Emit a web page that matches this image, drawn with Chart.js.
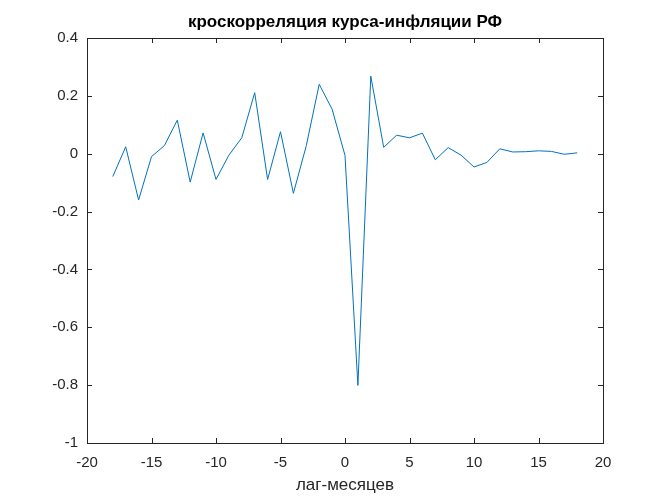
<!DOCTYPE html>
<html>
<head>
<meta charset="utf-8">
<script src="https://cdn.jsdelivr.net/npm/chart.js@4/dist/chart.umd.min.js"></script>
<style>
  html, body { margin: 0; padding: 0; background: #fff; }
  #box { width: 667px; height: 500px; }
</style>
</head>
<body>
<div id="box"><canvas id="grafico"></canvas></div>
<script>
// Lags (months) and cross-correlation values
const lags = [-18, -17, -16, -15, -14, -13, -12, -11, -10, -9, -8, -7, -6, -5, -4, -3, -2, -1,
  0, 1, 2, 3, 4, 5, 6, 7, 8, 9, 10, 11, 12, 13, 14, 15, 16, 17, 18];
const corr = [-0.079, 0.024, -0.160, -0.010, 0.028, 0.116, -0.098, 0.072, -0.089, -0.005,
  0.055, 0.211, -0.089, 0.076, -0.137, 0.028, 0.240, 0.154,
  -0.006, -0.801, 0.268, 0.022, 0.064, 0.055, 0.071, -0.021, 0.021, -0.005,
  -0.046, -0.030, 0.017, 0.006, 0.007, 0.010, 0.008, -0.002, 0.003];
const xTicks = [-20, -15, -10, -5, 0, 5, 10, 15, 20];
const yTicks = [-1, -0.8, -0.6, -0.4, -0.2, 0, 0.2, 0.4];

const titulo = 'кроскорреляция курса-инфляции РФ';
const rotuloX = 'лаг-месяцев';

const corEixo = '#262626';
const fonte = 'Arial, "Liberation Sans", Helvetica, sans-serif';

// Caixa estilo MATLAB: borda, ticks pra dentro e título centralizado sobre os eixos
const caixaMatlab = {
  id: 'caixaMatlab',
  afterDraw(chart) {
    const { ctx, chartArea: a, scales } = chart;
    ctx.save();
    ctx.strokeStyle = corEixo;
    ctx.lineWidth = 1;
    ctx.strokeRect(Math.round(a.left) + 0.5, Math.round(a.top) + 0.5,
      Math.round(a.right - a.left), Math.round(a.bottom - a.top));
    const t = 5;
    ctx.beginPath();
    xTicks.forEach(v => {
      const px = Math.round(scales.x.getPixelForValue(v)) + 0.5;
      ctx.moveTo(px, a.bottom); ctx.lineTo(px, a.bottom - t);
      ctx.moveTo(px, a.top); ctx.lineTo(px, a.top + t);
    });
    yTicks.forEach(v => {
      const py = Math.round(scales.y.getPixelForValue(v)) + 0.5;
      ctx.moveTo(a.left, py); ctx.lineTo(a.left + t, py);
      ctx.moveTo(a.right, py); ctx.lineTo(a.right - t, py);
    });
    ctx.stroke();

    ctx.fillStyle = '#000';
    ctx.font = 'bold 17px ' + fonte;
    ctx.textAlign = 'center';
    ctx.textBaseline = 'middle';
    ctx.fillText(titulo, (a.left + a.right) / 2, 22);
    ctx.restore();
  }
};

new Chart(document.getElementById('grafico'), {
  type: 'line',
  data: {
    datasets: [{
      data: lags.map((l, i) => ({ x: l, y: corr[i] })),
      borderColor: '#0072BD',
      borderWidth: 1,
      pointRadius: 0,
      tension: 0,
      fill: false
    }]
  },
  options: {
    responsive: true,
    maintainAspectRatio: false,
    animation: false,
    layout: { padding: { top: 38, right: 64, left: 0, bottom: 0 } },
    plugins: {
      legend: { display: false },
      tooltip: { enabled: false },
      title: { display: false }
    },
    scales: {
      x: {
        type: 'linear',
        min: -20, max: 20,
        afterBuildTicks: s => { s.ticks = xTicks.map(v => ({ value: v })); },
        afterFit: s => { s.height = 57; },
        grid: { display: false, drawTicks: false },
        border: { display: false },
        ticks: { color: corEixo, font: { family: fonte, size: 15 }, padding: 11, maxRotation: 0 },
        title: {
          display: true, text: rotuloX, color: corEixo,
          font: { family: fonte, size: 17 }, padding: { top: 2, bottom: 4 }
        }
      },
      y: {
        min: -1, max: 0.4,
        afterBuildTicks: s => { s.ticks = yTicks.map(v => ({ value: v })); },
        afterFit: s => { s.width = 87; },
        grid: { display: false, drawTicks: false },
        border: { display: false },
        ticks: {
          color: corEixo, font: { family: fonte, size: 15 }, padding: 9,
          callback: v => String(Math.round(v * 10) / 10)
        }
      }
    }
  },
  plugins: [caixaMatlab]
});
</script>
</body>
</html>
